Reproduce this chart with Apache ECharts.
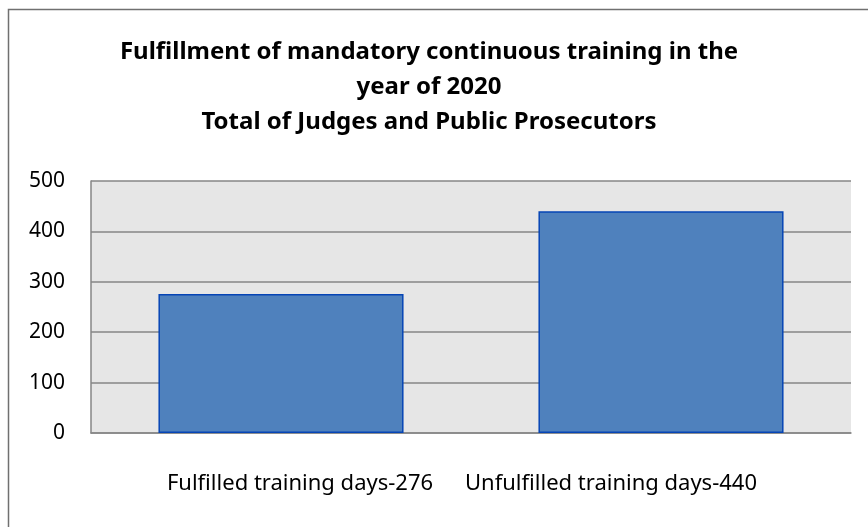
<!DOCTYPE html>
<html>
<head>
<meta charset="utf-8">
<script src="https://cdn.jsdelivr.net/npm/echarts@6/dist/echarts.min.js"></script>
<style>
  html, body { margin: 0; padding: 0; background: #fff; }
  #chart { width: 868px; height: 527px; }
</style>
</head>
<body>
<div id="chart"></div>
<script>
// chart data
const titleLines = [
  'Fulfillment of mandatory continuous training in the',
  'year of 2020',
  'Total of Judges and Public Prosecutors'
]
const categories = ['Fulfilled training days-276', 'Unfulfilled training days-440']
const trainingDays = [276, 440]
const yTicks = [0, 100, 200, 300, 400, 500]

const font = 'Noto Sans'

const chart = echarts.init(document.getElementById('chart'))

const option = {
  backgroundColor: '#fff',
  animation: false,
  title: {
    text: titleLines.join('\n'),
    left: 424,
    textAlign: 'center',
    top: 30,
    textStyle: {
      fontFamily: font,
      fontWeight: 'bold',
      fontSize: 24,
      lineHeight: 35,
      color: '#000'
    }
  },
  graphic: [{ // outer frame, cut off on the right and bottom
    type: 'rect',
    shape: { x: 8.5, y: 9.5, width: 1000, height: 800 },
    style: { fill: null, stroke: '#707070', lineWidth: 1.5 },
    silent: true
  }],
  grid: {
    left: 91,
    right: 17,
    top: 181,
    bottom: 94,
    show: true,
    backgroundColor: '#e6e6e6',
    borderWidth: 0
  },
  xAxis: {
    type: 'category',
    data: [
      // labels sit off-centre in the original, nudge them with padding
      { value: categories[0], textStyle: { padding: [0, 0, 0, 38] } },
      { value: categories[1], textStyle: { padding: [0, 100, 0, 0] } }
    ],
    axisLine: { show: true, lineStyle: { color: '#868686', width: 1.5 } },
    axisTick: { show: false },
    axisLabel: {
      margin: 40,
      fontFamily: font,
      fontSize: 22,
      color: '#000'
    }
  },
  yAxis: {
    type: 'value',
    min: yTicks[0],
    max: yTicks[yTicks.length - 1],
    interval: 100,
    axisLine: { show: true, lineStyle: { color: '#868686', width: 1.5 } },
    axisTick: { show: false },
    splitLine: { lineStyle: { color: '#868686', width: 1.5 } },
    axisLabel: {
      margin: 26,
      fontFamily: font,
      fontSize: 21,
      color: '#000'
    }
  },
  series: [{
    type: 'bar',
    data: trainingDays,
    barCategoryGap: '35.5%',
    itemStyle: {
      color: '#4f81bd',
      borderColor: '#0645b5',
      borderWidth: 1.5
    }
  }]
}

chart.setOption(option)
</script>
</body>
</html>
